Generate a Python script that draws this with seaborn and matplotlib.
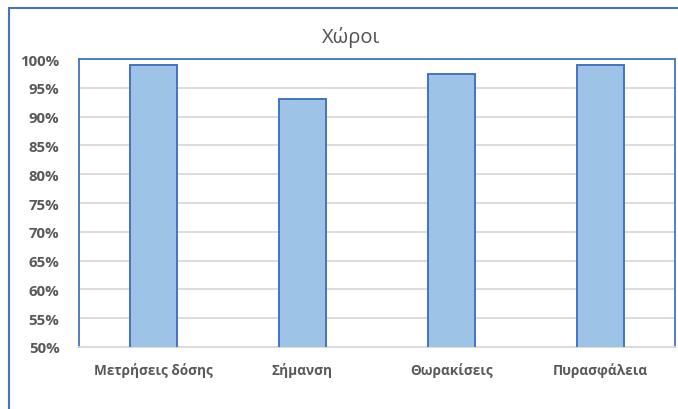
import matplotlib
matplotlib.use('Agg')
import matplotlib.pyplot as plt
import matplotlib.ticker as mticker
from matplotlib.lines import Line2D
import pandas as pd
import seaborn as sns

categories = ['Μετρήσεις δόσης', 'Σήμανση', 'Θωρακίσεις', 'Πυρασφάλεια']
values = [0.99, 0.93, 0.974, 0.99]
title = 'Χώροι'

TEXT = '#595959'
BLUE_EDGE = '#4472C4'
BAR_FILL = '#9DC3E6'

sns.set_theme(style='white')
plt.rcParams['font.family'] = ['Open Sans', 'DejaVu Sans']

df = pd.DataFrame({'Category': categories, 'Value': values})

fig = plt.figure(figsize=(6.78, 4.10), dpi=100)
ax = fig.add_axes([79 / 678, 1 - 348 / 410, (675 - 79) / 678, (348 - 60) / 410])

sns.barplot(data=df, x='Category', y='Value', color=BAR_FILL, width=0.32,
            edgecolor=BLUE_EDGE, linewidth=1.4, saturation=1, ax=ax, zorder=3)

ax.set_ylim(0.5, 1.0)
ax.set_xlim(-0.5, len(categories) - 0.5)
ax.yaxis.set_major_locator(mticker.MultipleLocator(0.05))
ax.yaxis.set_major_formatter(mticker.PercentFormatter(1.0, decimals=0))
ax.grid(axis='y', color='#D9D9D9', linewidth=1.3, zorder=0)
ax.set_axisbelow(True)
ax.set_xlabel('')
ax.set_ylabel('')

for side in ['left', 'top', 'right']:
    ax.spines[side].set_color(BLUE_EDGE)
    ax.spines[side].set_linewidth(1.3)
ax.spines['bottom'].set_color('#D9D9D9')
ax.spines['bottom'].set_linewidth(1.3)

ax.tick_params(axis='y', length=0, pad=14, labelsize=10.8, labelcolor=TEXT)
ax.tick_params(axis='x', length=0, pad=11, labelsize=9.8, labelcolor=TEXT)
for lbl in ax.get_yticklabels() + ax.get_xticklabels():
    lbl.set_fontweight('bold')

fig.text(351 / 678, 1 - 38 / 410, title, ha='center', va='center',
         fontsize=14.5, color='#505050', fontweight='medium')

# outer chart frame (left and top edges visible)
fig.add_artist(Line2D([8.5 / 678, 8.5 / 678], [0, 1 - 9 / 410], color=BLUE_EDGE,
                      linewidth=1.5, transform=fig.transFigure))
fig.add_artist(Line2D([8.5 / 678, 1], [1 - 9 / 410, 1 - 9 / 410], color=BLUE_EDGE,
                      linewidth=1.5, transform=fig.transFigure))

fig.savefig('out.png', dpi=100)
